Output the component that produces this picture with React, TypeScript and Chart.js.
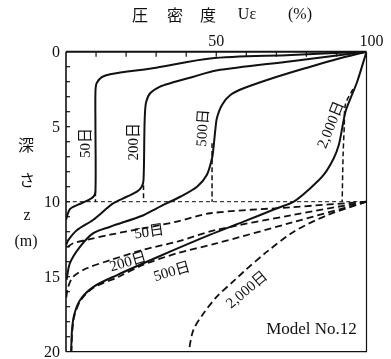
import React, { useEffect, useRef } from "react";
import { Chart, registerables } from "chart.js";

Chart.register(...registerables);

// [consolidation degree U (%), depth z (m)]
type P = [number, number];

// Solid isochrones
const SOLID_50: P[] = [
  [100, 0], [75, 0.22], [48, 0.45], [30, 1.07], [14.7, 1.5], [11.9, 1.7], [10.2, 2.1], [9.8, 2.67],
  [9.8, 5], [9.8, 9.33], [9.1, 9.67], [6.9, 9.95], [4, 10.2], [1.3, 10.5], [0, 11.2],
];
const SOLID_200: P[] = [
  [100, 0], [75, 0.63], [50, 1.25], [42.4, 1.67], [34.7, 2.1], [31.3, 2.33], [28, 2.77], [26.7, 3.33],
  [26.3, 4.0], [26.1, 5.2], [25.8, 8.55], [25.2, 9.0], [23.6, 9.33], [20.2, 9.67], [15.8, 10.1],
  [13.6, 10.44], [9.1, 11.2], [3.6, 11.9], [0.8, 12.55], [0, 12.9],
];
const SOLID_500: P[] = [
  [100, 0], [90, 0.5], [81.3, 1.0], [70.2, 1.67], [59.1, 2.44], [54.7, 2.89], [51.9, 3.55], [50.2, 4.44],
  [49.7, 5.2], [49, 6.55], [48.6, 7.1], [46.9, 8.2], [43.6, 9.0], [38, 9.67], [33.6, 10.1], [30.2, 10.44],
  [25.8, 10.9], [14.7, 11.67], [9.1, 12.1], [4.7, 13], [1.3, 14.1], [0.2, 15.2],
];
const SOLID_2000: P[] = [
  [100, 0], [96.9, 2.0], [94.7, 3.1], [93, 4.0], [91.9, 5.1], [90.8, 6.2], [89.1, 7.1], [85.8, 8.2],
  [81.3, 9.1], [75.8, 10.0], [70.2, 10.44], [59.1, 11.33], [48, 12.2], [31.3, 13.62], [17, 14.89],
  [9, 15.69], [4.7, 16.55], [2.7, 17.55], [2, 18.55], [1.7, 20],
];

// Dashed isochrones, upper layer (vertical drops to z = 10 m)
const DASH_50_UP: P[] = [[9.8, 9.3], [9.8, 10]];
const DASH_200_UP: P[] = [[25.8, 8.9], [25.8, 10]];
const DASH_500_UP: P[] = [[48.6, 6.1], [48.6, 10]];
const DASH_2000_UP: P[] = [[95.5, 2.5], [93.0, 3.5], [92.6, 5], [92.2, 7], [91.9, 10]];

// Dashed isochrones, lower layer
const DASH_50_LOW: P[] = [
  [100, 10], [75, 10.37], [48, 10.77], [36.9, 11.33], [25.8, 11.77], [14.7, 12.2], [6.9, 12.55], [2.4, 12.77], [0, 13.1],
];
const DASH_200_LOW: P[] = [
  [100, 10], [75, 10.9], [49.7, 11.9], [36.9, 12.67], [25.8, 13.2], [14.7, 13.9], [6.9, 14.44], [2.4, 15.0], [0.7, 15.7], [0, 16.55],
];
const DASH_500_LOW: P[] = [
  [100, 10], [75, 11.4], [49.7, 12.8], [36.9, 13.44], [25.8, 14.2], [17, 15.05], [9, 15.75], [4.8, 16.6], [2.8, 17.6], [2.1, 18.6], [1.8, 20],
];
const DASH_2000_LOW: P[] = [
  [100, 10], [86.9, 10.9], [75.8, 12.0], [66.9, 13.33], [59.1, 14.67], [56.3, 15.2], [50.2, 16.33], [45.8, 17.44], [42.4, 18.55], [40.8, 20],
];

const BOUNDARY_DEPTH = 10;
const X_MIN = 0;
const X_MAX = 100;
const Y_MIN = 0;
const Y_MAX = 20;
const X_MINOR_TICKS = [10, 20, 30, 40, 50, 60, 70, 80, 90];
const Y_MINOR_TICKS = [1, 2, 3, 4, 5, 6, 7, 8, 9, 10, 11, 12, 13, 14, 15, 16, 17, 18, 19];
const X_TICK_LABELS = [50, 100];
const Y_TICK_LABELS = [0, 5, 10, 15, 20];

const CURVE_LABEL_TEXT = ["50日", "200日", "500日", "2,000日", "50日", "200日", "500日", "2,000日", "Model No.12"];
const CURVE_LABEL_U = [6.7, 22.7, 45.7, 88.3, 27.7, 20.7, 35.3, 60.3, 81.7];
const CURVE_LABEL_Z = [6.09, 6.0, 5.09, 4.89, 12.05, 14.05, 14.7, 15.9, 18.55];
const CURVE_LABEL_ROT = [-90, -90, -86, -68, -8, -16, -16, -40, 0];

const INK = "#111";
const SERIF = '"Liberation Serif", "DejaVu Serif", "Noto Sans CJK JP", serif';
const CJK = '"Noto Sans CJK JP", "Liberation Serif", sans-serif';

const toData = (pts: P[]) => pts.map(([x, y]) => ({ x, y }));

const overlayPlugin = {
  id: "overlay",
  afterDatasetsDraw(chart: any) {
    const { ctx, chartArea: a, scales } = chart;
    const xs = scales.x;
    const ys = scales.y;
    ctx.save();
    ctx.strokeStyle = INK;
    ctx.fillStyle = INK;

    // frame
    ctx.lineWidth = 2;
    ctx.beginPath();
    ctx.moveTo(a.left, a.top);
    ctx.lineTo(a.right, a.top);
    ctx.stroke();
    ctx.lineWidth = 1.6;
    ctx.beginPath();
    ctx.moveTo(a.left, a.top);
    ctx.lineTo(a.left, a.bottom);
    ctx.stroke();
    ctx.lineWidth = 1.2;
    ctx.beginPath();
    ctx.moveTo(a.right, a.top);
    ctx.lineTo(a.right, a.bottom);
    ctx.lineTo(a.left, a.bottom);
    ctx.stroke();

    // inward ticks
    ctx.lineWidth = 1.2;
    X_MINOR_TICKS.forEach((v) => {
      const px = xs.getPixelForValue(v);
      ctx.beginPath();
      ctx.moveTo(px, a.top);
      ctx.lineTo(px, a.top + 5);
      ctx.stroke();
    });
    Y_MINOR_TICKS.forEach((v) => {
      const py = ys.getPixelForValue(v);
      ctx.beginPath();
      ctx.moveTo(a.left, py);
      ctx.lineTo(a.left + 4, py);
      ctx.stroke();
    });

    // tick labels
    ctx.font = `16px ${SERIF}`;
    ctx.textBaseline = "middle";
    ctx.textAlign = "center";
    X_TICK_LABELS.forEach((v) => {
      const px = xs.getPixelForValue(v) + (v === 100 ? 5 : 0);
      ctx.fillText(String(v), px, a.top - 10);
    });
    ctx.textAlign = "right";
    Y_TICK_LABELS.forEach((v) => {
      const py = ys.getPixelForValue(v);
      ctx.fillText(String(v), a.left - 6, py + 1);
    });

    // top title
    ctx.textAlign = "center";
    ctx.font = `16px ${CJK}`;
    const tx = [140, 175, 208];
    ["圧", "密", "度"].forEach((s, i) => ctx.fillText(s, tx[i], 15));
    ctx.font = `16px ${SERIF}`;
    ctx.fillText("Uε", 247, 15);
    ctx.fillText("(%)", 300, 15);

    // left title
    ctx.font = `16px ${CJK}`;
    ctx.fillText("深", 26, 145);
    ctx.fillText("さ", 27, 180);
    ctx.font = `16px ${SERIF}`;
    ctx.fillText("z", 27, 216);
    ctx.fillText("(m)", 26, 242);

    // curve labels
    CURVE_LABEL_TEXT.forEach((t, i) => {
      const px = xs.getPixelForValue(CURVE_LABEL_U[i]);
      const py = ys.getPixelForValue(CURVE_LABEL_Z[i]);
      ctx.save();
      ctx.translate(px, py);
      ctx.rotate((CURVE_LABEL_ROT[i] * Math.PI) / 180);
      ctx.font = i === 8 ? `17px ${SERIF}` : `15px ${SERIF}`;
      ctx.textAlign = "center";
      ctx.textBaseline = "middle";
      ctx.fillText(t, 0, 0);
      ctx.restore();
    });

    ctx.restore();
  },
};

export default function App() {
  const ref = useRef<HTMLCanvasElement | null>(null);

  useEffect(() => {
    if (!ref.current) return;
    const solid = (pts: P[]) => ({
      data: toData(pts),
      borderColor: INK,
      borderWidth: 2,
      pointRadius: 0,
      tension: 0.3,
      fill: false,
    });
    const dashed = (pts: P[], w: number, dash: number[]) => ({
      data: toData(pts),
      borderColor: INK,
      borderWidth: w,
      borderDash: dash,
      pointRadius: 0,
      tension: 0.3,
      fill: false,
    });
    const chart = new Chart(ref.current, {
      type: "line",
      data: {
        datasets: [
          solid(SOLID_50),
          solid(SOLID_200),
          solid(SOLID_500),
          solid(SOLID_2000),
          dashed(DASH_50_UP, 1.5, [5, 3]),
          dashed(DASH_200_UP, 1.5, [5, 3]),
          dashed(DASH_500_UP, 1.5, [5, 3]),
          dashed(DASH_2000_UP, 1.5, [5, 3]),
          dashed(DASH_50_LOW, 1.8, [7, 4]),
          dashed(DASH_200_LOW, 1.8, [7, 4]),
          dashed(DASH_500_LOW, 1.8, [7, 4]),
          dashed(DASH_2000_LOW, 1.8, [7, 4]),
          dashed([[X_MIN, BOUNDARY_DEPTH], [X_MAX, BOUNDARY_DEPTH]], 1, [4, 3]),
        ] as any,
      },
      options: {
        responsive: false,
        animation: false,
        devicePixelRatio: 1,
        layout: { padding: { left: 66, right: 24.5, top: 51.7, bottom: 7.3 } },
        plugins: { legend: { display: false }, tooltip: { enabled: false } },
        scales: {
          x: { type: "linear", min: X_MIN, max: X_MAX, display: false },
          y: { type: "linear", min: Y_MIN, max: Y_MAX, reverse: true, display: false },
        },
      } as any,
      plugins: [overlayPlugin],
    });
    return () => chart.destroy();
  }, []);

  return (
    <div style={{ position: "fixed", left: 0, top: 0, width: 391, height: 359, background: "#fff" }}>
      <canvas ref={ref} width={391} height={359} style={{ display: "block" }} />
    </div>
  );
}
